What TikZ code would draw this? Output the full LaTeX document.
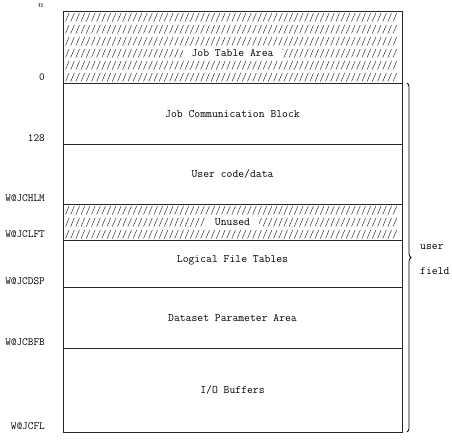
\documentclass[tikz,border=0pt]{standalone}
\usepackage{fontspec}
\usepackage{tikz}
\usetikzlibrary{decorations.pathreplacing}
\tikzset{
	memline/.style={line width=0.75pt, black!85},
	hatchline/.style={line width=0.5pt, black!80},
	areatext/.style={font=\ttfamily\fontsize{11.4}{13}\selectfont},
	addrtext/.style={font=\ttfamily\fontsize{11}{13}\selectfont, anchor=south east, inner sep=1pt},
	gaptext/.style={areatext, fill=white, inner xsep=9bp, inner ysep=1bp},
	brace/.style={decorate, decoration={brace, amplitude=4bp}},
}

\begin{document}
\begin{tikzpicture}[x=1bp, y=-1bp]
	\useasboundingbox (0,0) rectangle (452,444);

	% hatched areas, typed slashes row by row
	\foreach \rtop/\nrows in {11/6, 204/3} {
		\foreach \r in {1,...,\nrows} {
			\foreach \hx in {65.5,70.7,...,398} {
				\draw[hatchline] (\hx,{\rtop+12*\r-1.5}) -- ++(3.6,-8.5);
			}
		}
	}

	% the memory column
	\draw[memline] (63,11) rectangle (402,432);
	\foreach \yy in {83,144,204,240,287,348}
		\draw[memline] (63,\yy) -- (402,\yy);

	\node[gaptext] (jta) at (232.5,53) {Job Table Area};
	\node[gaptext] (unused) at (232.5,222) {Unused};
	\node[areatext] (jcb)  at (232.5,114) {Job Communication Block};
	\node[areatext] (ucd)  at (232.5,174) {User code/data};
	\node[areatext] (lft)  at (232.5,260) {Logical File Tables};
	\node[areatext] (dpa)  at (232.5,318) {Dataset Parameter Area};
	\node[areatext] (iob)  at (232.5,390) {I/O Buffers};

	% addresses at the left
	\node[font=\small, inner sep=1pt] (addr-n) at (41,6) {$n$};
	\foreach \yy/\lbl [count=\i] in {83/0, 144/128, 204/W@JCHLM, 240/W@JCLFT,
			287/W@JCDSP, 348/W@JCBFB, 432/W@JCFL}
		\node[addrtext] (addr-\i) at (46,\yy-1) {\lbl};

	% user field
	\coordinate (ufTop) at (407,83);
	\coordinate (ufBot) at (407,432);
	\draw[brace, line width=0.75pt] (ufTop) -- (ufBot);
	\node[areatext, anchor=west, inner sep=0pt] (uf1) at (420,247) {user};
	\node[areatext, anchor=west, inner sep=0pt] (uf2) at (420,271) {field};
\end{tikzpicture}
\end{document}
